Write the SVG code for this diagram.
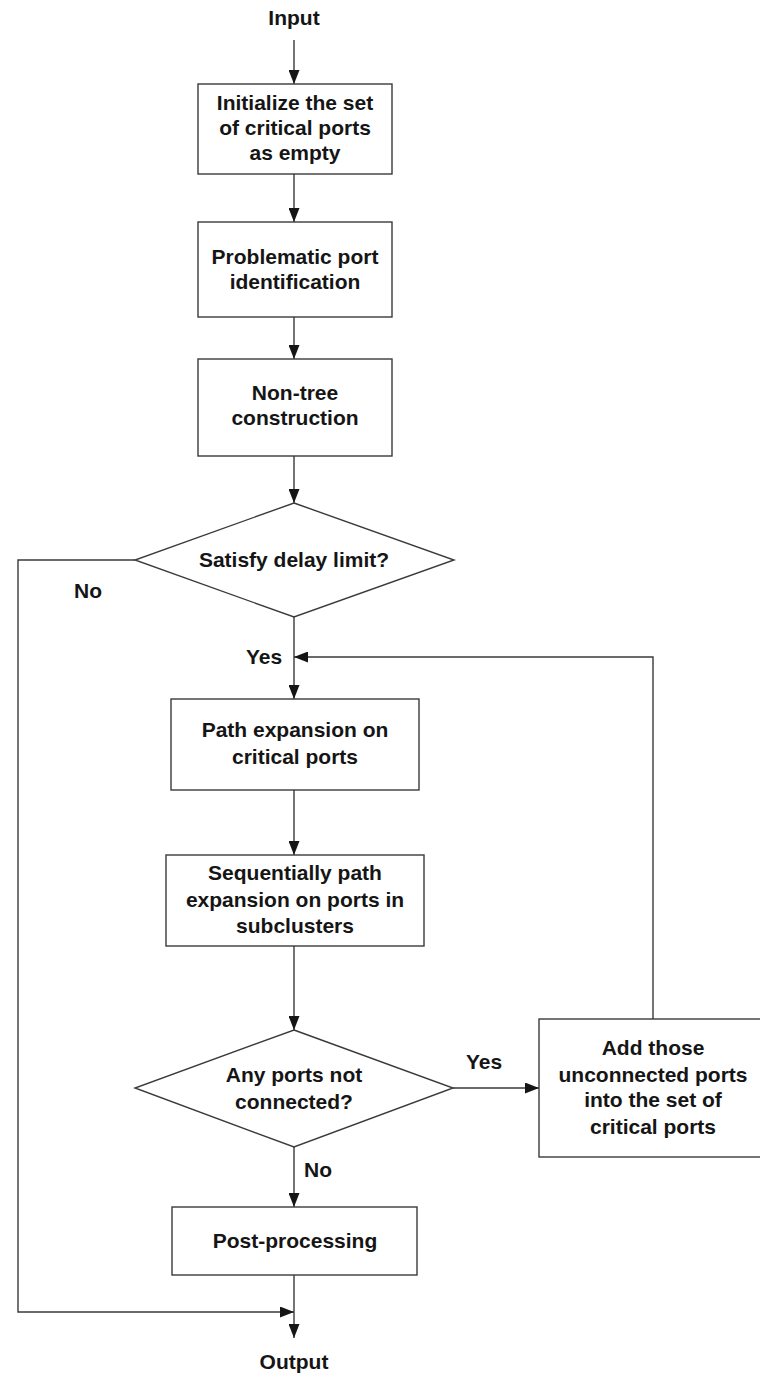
<svg xmlns="http://www.w3.org/2000/svg" width="760" height="1377" viewBox="0 0 760 1377">
  <style>
    .box { fill: #ffffff; stroke: #3a3a3a; stroke-width: 1.4; }
    .edge { fill: none; stroke: #3a3a3a; stroke-width: 1.4; }
    text { font-family: "Liberation Sans", Arial, sans-serif; font-weight: bold; font-size: 21px; fill: #151515; text-anchor: middle; }
  </style>
  <defs>
    <marker id="arrow" viewBox="0 0 14 11" refX="14" refY="5.5" markerWidth="14" markerHeight="11" markerUnits="userSpaceOnUse" orient="auto">
      <path d="M0,0 L14,5.5 L0,11 Z" fill="#151515"/>
    </marker>
  </defs>
  <rect width="760" height="1377" fill="#ffffff"/>

  <!-- connectors -->
  <g id="connectors">
    <line class="edge" x1="294" y1="40" x2="294" y2="84" marker-end="url(#arrow)"/>
    <line class="edge" x1="294" y1="174" x2="294" y2="222" marker-end="url(#arrow)"/>
    <line class="edge" x1="294" y1="317" x2="294" y2="359" marker-end="url(#arrow)"/>
    <line class="edge" x1="294" y1="456" x2="294" y2="503" marker-end="url(#arrow)"/>
    <line class="edge" x1="294" y1="617" x2="294" y2="699" marker-end="url(#arrow)"/>
    <line class="edge" x1="294" y1="790" x2="294" y2="855" marker-end="url(#arrow)"/>
    <line class="edge" x1="294" y1="946" x2="294" y2="1030" marker-end="url(#arrow)"/>
    <line class="edge" x1="294" y1="1147" x2="294" y2="1207" marker-end="url(#arrow)"/>
    <line class="edge" x1="294" y1="1275" x2="294" y2="1338" marker-end="url(#arrow)"/>
    <!-- No branch of the delay check -->
    <polyline class="edge" points="135,560 18,560 18,1312 294,1312" marker-end="url(#arrow)"/>
    <!-- Yes branch to the add box -->
    <line class="edge" x1="453" y1="1088" x2="539" y2="1088" marker-end="url(#arrow)"/>
    <!-- loop back -->
    <polyline class="edge" points="653,1019 653,657 294,657" marker-end="url(#arrow)"/>
    <text x="294" y="25">Input</text>
    <text x="294" y="1369">Output</text>
    <text x="88" y="598">No</text>
    <text x="264" y="664">Yes</text>
    <text x="484" y="1069">Yes</text>
    <text x="318" y="1177">No</text>
  </g>

  <g id="init">
    <rect class="box" x="198" y="84" width="194" height="90"/>
    <text x="295" y="110">Initialize the set</text>
    <text x="295" y="135">of critical ports</text>
    <text x="295" y="160">as empty</text>
  </g>

  <g id="identify">
    <rect class="box" x="198" y="222" width="194" height="95"/>
    <text x="295" y="264">Problematic port</text>
    <text x="295" y="289">identification</text>
  </g>

  <g id="nontree">
    <rect class="box" x="198" y="359" width="194" height="97"/>
    <text x="295" y="400">Non-tree</text>
    <text x="295" y="425">construction</text>
  </g>

  <g id="delay-check">
    <polygon class="box" points="294,503 454,560 294,617 135,560"/>
    <text x="294" y="567">Satisfy delay limit?</text>
  </g>

  <g id="path-expansion">
    <rect class="box" x="171" y="699" width="248" height="91"/>
    <text x="295" y="737">Path expansion on</text>
    <text x="295" y="764">critical ports</text>
  </g>

  <g id="sequential">
    <rect class="box" x="166" y="855" width="258" height="91"/>
    <text x="295" y="880">Sequentially path</text>
    <text x="295" y="907">expansion on ports in</text>
    <text x="295" y="933">subclusters</text>
  </g>

  <g id="connected-check">
    <polygon class="box" points="294,1030 453,1088 294,1147 135,1088"/>
    <text x="294" y="1082">Any ports not</text>
    <text x="294" y="1109">connected?</text>
  </g>

  <g id="add-ports">
    <rect class="box" x="539" y="1019" width="228" height="138"/>
    <text x="653" y="1055">Add those</text>
    <text x="653" y="1082">unconnected ports</text>
    <text x="653" y="1107">into the set of</text>
    <text x="653" y="1134">critical ports</text>
  </g>

  <g id="post">
    <rect class="box" x="172" y="1207" width="245" height="68"/>
    <text x="295" y="1248">Post-processing</text>
  </g>
</svg>
